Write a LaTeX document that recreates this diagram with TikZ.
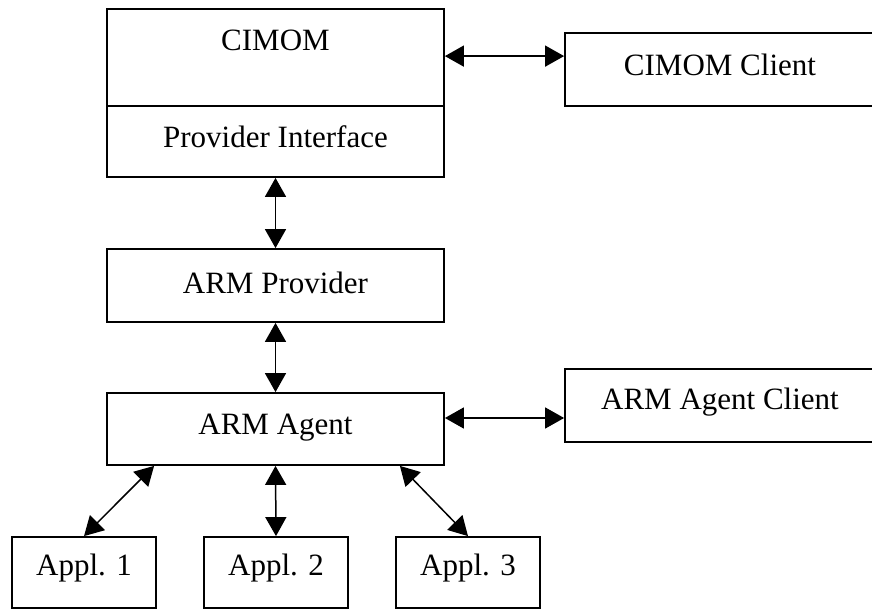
\documentclass[tikz,border=0pt]{standalone}
\usepackage{fontspec}
\setmainfont{Liberation Serif}
\usetikzlibrary{arrows.meta}
\begin{document}
\begin{tikzpicture}[x=1pt,y=-1pt,
  box/.style={draw=black, line width=1.8pt, inner sep=0pt, rectangle},
  lbl/.style={inner sep=0pt, font=\fontsize{31}{36}\selectfont},
  link/.style={line width=1.5pt, {Triangle[length=19pt,width=21pt]}-{Triangle[length=19pt,width=21pt]}}]
\useasboundingbox (0,0) rectangle (872,609);
% boxes
\node[box, minimum width=337pt, minimum height=168pt] (cimom) at (275.5,93) {};
\draw[line width=1.8pt] (cimom.west |- 0,106) coordinate (divl) -- (cimom.east |- 0,106) coordinate (divr);
\node[lbl] (cimomtxt) at (275.5,40) {CIMOM};
\node[lbl] (provif) at (275.5,137) {Provider Interface};
\node[box, minimum width=311pt, minimum height=73pt] (cimomclient) at (720.5,69.5) {};
\node[lbl] (cimomclienttxt) at (720,65) {CIMOM Client};
\node[box, minimum width=337pt, minimum height=73pt] (armprov) at (275.5,285.5) {};
\node[lbl] (armprovtxt) at (275.5,283) {ARM Provider};
\node[box, minimum width=337pt, minimum height=72pt] (armagent) at (275.5,429) {};
\node[lbl] (armagenttxt) at (275.5,428) {ARM Agent};
\node[box, minimum width=311pt, minimum height=73pt] (agentclient) at (720.5,405.5) {};
\node[lbl] (agentclienttxt) at (720,402) {ARM Agent Client};
\node[box, minimum width=144pt, minimum height=71pt] (appl1) at (84,572.5) {};
\node[lbl] (appl1txt) at (84,568) {Appl. 1};
\node[box, minimum width=144pt, minimum height=71pt] (appl2) at (276,572.5) {};
\node[lbl] (appl2txt) at (276,568) {Appl. 2};
\node[box, minimum width=144pt, minimum height=71pt] (appl3) at (468,572.5) {};
\node[lbl] (appl3txt) at (468,568) {Appl. 3};
% connectors
\draw[link] ([yshift=-48pt]cimom.north east) -- ([yshift=-48pt]cimom.north east -| cimomclient.west);
\draw[link] (cimom.south) -- (armprov.north);
\draw[link] (armprov.south) -- (armagent.north);
\draw[link] ([yshift=11pt]armagent.east) -- ([yshift=11pt]armagent.east -| agentclient.west);
\draw[link] ([xshift=48pt]armagent.south west) -- (appl1.north);
\draw[link] (armagent.south) -- (appl2.north);
\draw[link] ([xshift=-45pt]armagent.south east) -- (appl3.north);
\end{tikzpicture}
\end{document}
